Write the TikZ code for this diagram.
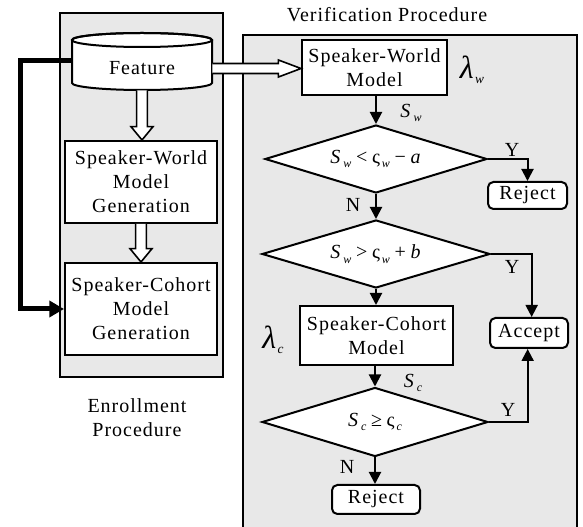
\documentclass[tikz,border=0pt]{standalone}
\usepackage{fontspec}
\setmainfont{Liberation Serif}[LetterSpace=5]
\usetikzlibrary{shapes.geometric,arrows.meta,calc}
\definecolor{panel}{RGB}{232,232,232}
\newcommand\sub[2]{#1\kern1.5pt\raisebox{-0.5ex}{\fontsize{9}{9}\selectfont\itshape #2}}
\newcommand\lam[1]{{\fontsize{24}{24}\selectfont\itshape λ}\kern1pt\raisebox{-0.6ex}{\fontsize{10}{10}\selectfont\itshape #1}}
\newcommand\mysp{\hspace{3.5pt}}
\newcommand\hollowv[2]{\path[hollow] let \p1=(#1), \p2=(#2) in (\x1-4pt,\y1) -- (\x1-4pt,\y2+10pt) -- (\x1-8.25pt,\y2+10pt) -- (\x1,\y2) -- (\x1+8.25pt,\y2+10pt) -- (\x1+4pt,\y2+10pt) -- (\x1+4pt,\y1);}
\newcommand\hollowh[2]{\path[hollow] let \p1=(#1), \p2=(#2) in (\x1,\y1+3.75pt) -- (\x2-17pt,\y1+3.75pt) -- (\x2-17pt,\y1+6.4pt) -- (\x2,\y1) -- (\x2-17pt,\y1-6.4pt) -- (\x2-17pt,\y1-3.75pt) -- (\x1,\y1-3.75pt);}
\begin{document}
\begin{tikzpicture}[x=0.75pt,y=-0.75pt,font=\fontsize{15}{18}\selectfont,
  panelbox/.style={draw,line width=1.2pt,fill=panel},
  box/.style={draw,line width=1.5pt,fill=white,align=center,inner sep=0pt},
  rbox/.style={box,rounded corners=4pt},
  dec/.style={draw,diamond,line width=1.5pt,fill=white,inner sep=0pt,aspect=3.3},
  flow/.style={line width=1.5pt,-{Triangle[length=9pt,width=9pt]}},
  hollow/.style={draw,line width=1.2pt,fill=white,line join=miter},
  feedline/.style={line width=3.75pt,-{Triangle[length=11pt,width=12pt]}},
  lbl/.style={inner sep=0pt}]
\useasboundingbox (0,0) rectangle (583,527);
% panels
\path[panelbox] (60,13) rectangle (223,377);
\path[panelbox] (243,35) rectangle (577,540);
% cylinder
\path[draw,line width=1.5pt,fill=white] (72,40) -- (72,83) arc[start angle=180,end angle=360,x radius=52.5pt,y radius=5.25pt] -- (212,40) arc[start angle=0,end angle=180,x radius=52.5pt,y radius=5.25pt] -- cycle;
\draw[line width=1.5pt] (142,40) ellipse[x radius=52.5pt,y radius=5.25pt];
\node[lbl,minimum width=105pt,minimum height=32.25pt] (feat) at (142,68.5) {Feature};
% enrollment
\node[box,minimum width=114pt,minimum height=61.5pt] (swg) at (141,182) {Speaker-World\\Model\\Generation};
\node[box,minimum width=114pt,minimum height=69pt] (scg) at (141,309) {Speaker-Cohort\\Model\\Generation};
\node[lbl,align=center] (enr) at (137,418) {Enrollment\\Procedure};
\node[lbl] (ver) at (387,15) {Verification Procedure};
% verification
\node[box,minimum width=108.75pt,minimum height=41.25pt] (swm) at (374.5,67.5) {Speaker-World\\Model};
\node[dec,minimum width=166.5pt,minimum height=51pt] (d1) at (376,159) {\sub{\textit{S}}{w}\mysp<\mysp\sub{ς}{w}\mysp−\mysp\textit{a}};
\node[rbox,minimum width=59.25pt,minimum height=20.25pt] (rej1) at (527.5,195.5) {Reject};
\node[dec,minimum width=171pt,minimum height=51pt] (d2) at (376,254) {\sub{\textit{S}}{w}\mysp>\mysp\sub{ς}{w}\mysp+\mysp\textit{b}};
\node[rbox,minimum width=58.5pt,minimum height=22.5pt] (acc) at (529,333) {Accept};
\node[box,minimum width=114.75pt,minimum height=44.25pt] (scm) at (376.5,335.5) {Speaker-Cohort\\Model};
\node[dec,minimum width=169.5pt,minimum height=51.75pt] (d3) at (375,422) {\sub{\textit{S}}{c}\mysp≥\mysp\sub{ς}{c}};
\node[rbox,minimum width=66pt,minimum height=21.75pt] (rej2) at (376,499.5) {Reject};
% labels
\node[lbl] (lw) at (472,70) {\lam{w}};
\node[lbl] (lc) at (273,340) {\lam{c}};
\node[lbl] (sw) at (411,113) {\sub{\textit{S}}{w}};
\node[lbl] (sc) at (413,383) {\sub{\textit{S}}{c}};
\node[lbl] (y1) at (512,150) {Y};
\node[lbl] (y2) at (512,267) {Y};
\node[lbl] (y3) at (508,410) {Y};
\node[lbl] (n1) at (353,205) {N};
\node[lbl] (n2) at (347,467) {N};
% hollow arrows
\hollowv{feat.south}{swg.north}
\hollowv{swg.south}{scg.north}
\hollowh{feat.east}{swm.west}
% feedback
\coordinate (fb) at (20,60.5);
\draw[feedline] (feat.west |- fb) -- (fb) |- (scg.west);
% flow arrows
\draw[flow] (swm.south -| d1.north) -- (d1.north);
\draw[flow] (d1.south) -- (d2.north);
\draw[flow] (d2.south) -- (scm.north -| d2.south);
\draw[flow] (scm.south -| d3.north) -- (d3.north);
\draw[flow] (d3.south) -- (rej2.north -| d3.south);
\draw[flow] (d1.east) -| (rej1.north);
\draw[flow] (d2.east) -| ([xshift=2pt]acc.north);
\draw[flow] (d3.east) -| ([xshift=-1pt]acc.south);
\end{tikzpicture}
\end{document}
